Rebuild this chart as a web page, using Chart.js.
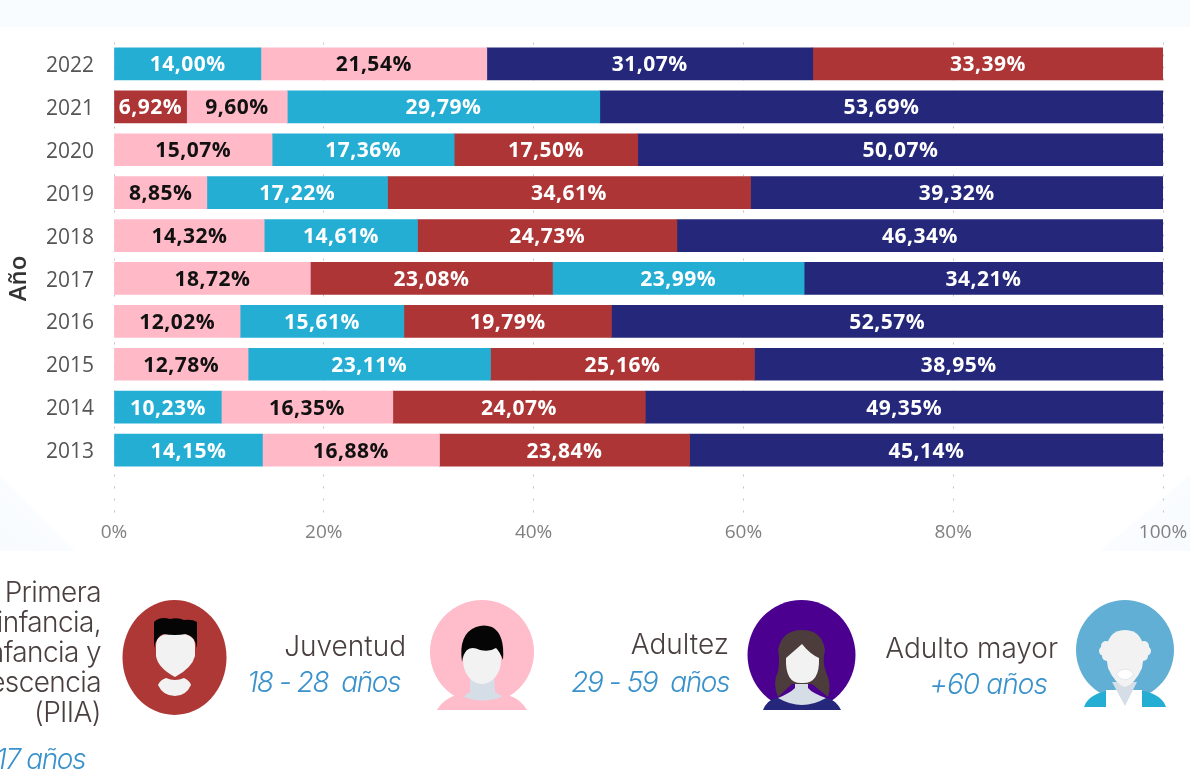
<!DOCTYPE html>
<html lang="es"><head><meta charset="utf-8">
<script src="https://cdn.jsdelivr.net/npm/chart.js@4"></script>
<style>
html,body{margin:0;padding:0;background:#fff;overflow:hidden}
#page{position:relative;width:1190px;height:769px;overflow:hidden;background:#fff}
#band{position:absolute;left:0;top:0;width:1190px;height:27px;background:#f8fcff}
.corner{position:absolute}
#cl{left:0;top:475px;width:75px;height:76px;clip-path:polygon(0 0,100% 100%,0 100%);background:linear-gradient(45deg,#f7fbfe,#fdfeff)}
#cr{left:1100px;top:475px;width:90px;height:76px;clip-path:polygon(100% 0,100% 100%,0 100%);background:linear-gradient(-45deg,#f7fbfe,#fdfeff)}
#wrap{position:absolute;left:0;top:0;width:1190px;height:560px}
#icons{position:absolute;left:0;top:0}
.t{position:absolute;white-space:nowrap;text-align:right;font-family:Inter,"Open Sans",sans-serif;font-weight:300;color:#4a3f3f;font-size:28px;line-height:30px}
.a{position:absolute;white-space:nowrap;text-align:right;font-family:Inter,"Open Sans",sans-serif;font-weight:300;font-style:italic;color:#3a92cc;font-size:28px;letter-spacing:-1.4px;line-height:30px}
</style></head><body>
<div id="page">
<div id="band"></div><div id="cl" class="corner"></div><div id="cr" class="corner"></div>
<div id="wrap"><canvas id="c" width="1190" height="560"></canvas></div>
<svg id="icons" width="1190" height="769" viewBox="0 0 1190 769">
  <!-- PIIA -->
  <ellipse cx="174.5" cy="657.5" rx="52" ry="57.5" fill="#ad3836"/>
  <path d="M156 645 Q156 633 175 633 Q195 633 195 645 L195 656 Q192 668 175 677 Q158 668 156 656Z" fill="#f2f2f2"/>
  <path d="M154 648 L154 622 Q160 616 170 619 Q178 617 184 620 Q192 619 197 622 L197 648 Q195 636 186 634 Q175 636 163 634 Q156 637 154 648Z" fill="#050505"/>
  <path d="M166 678 Q175 682 184 678 Q190 681 191 685 Q186 696 175 696 Q163 696 158 685 Q160 680 166 678Z" fill="#f2f2f2"/>
  <!-- Juventud -->
  <ellipse cx="482" cy="652" rx="52" ry="52" fill="#ffbccb"/>
  <path d="M437 710 Q445 696 465 693 L499 693 Q519 696 527 710Z" fill="#ffbccb"/>
  <path d="M470 672 L494 672 L495 692 Q501 695 502 697 Q482 704 464 697 Q465 695 470 692Z" fill="#d5dde6"/>
  <ellipse cx="482" cy="660" rx="19" ry="24" fill="#f2f2f2"/>
  <path d="M462 662 Q458 634 476 627 Q484 624 492 627 Q505 634 503 660 Q500 652 496 648 Q490 652 480 650 Q472 646 467 650 Q463 654 462 662Z" fill="#050505"/>
  <!-- Adultez -->
  <ellipse cx="801.5" cy="655" rx="54" ry="55" fill="#4b0090"/>
  <path d="M763 710 Q767 700 776 698 L827 698 Q836 700 841 710Z" fill="#25287a"/>
  <path d="M778 698 Q802 712 826 698 Q812 693 808 688 L808 675 L795 675 L795 688 Q790 693 778 698Z" fill="#d5dde6"/>
  <path d="M778 697 Q772 682 778 672 Q780 660 778 650 Q782 630 802 630 Q822 630 825 650 Q822 662 826 672 Q832 684 828 697 L812 684 L792 684Z" fill="#4d3c3c"/>
  <path d="M786 658 L802 644 Q810 654 819 658 Q820 684 802 683 Q785 684 786 658Z" fill="#f2f2f2"/>
  <!-- Adulto mayor -->
  <ellipse cx="1125" cy="650" rx="49" ry="50" fill="#62afd5"/>
  <path d="M1084 707 Q1088 695 1106 691 L1144 691 Q1162 695 1166 707Z" fill="#25aed4"/>
  <path d="M1106 690 L1142 690 L1142 707 L1106 707Z" fill="#fff"/>
  <path d="M1112 682 L1137 682 L1125 706Z" fill="#d5dde6"/>
  <circle cx="1106" cy="646" r="5" fill="#f2f2f2"/><circle cx="1104" cy="651" r="5" fill="#f2f2f2"/><circle cx="1107" cy="656" r="5" fill="#f2f2f2"/>
  <circle cx="1144" cy="646" r="5" fill="#f2f2f2"/><circle cx="1146" cy="651" r="5" fill="#f2f2f2"/><circle cx="1143" cy="656" r="5" fill="#f2f2f2"/>
  <path d="M1106 655 Q1106 630 1125 630 Q1144 630 1144 655 L1142 668 Q1135 684 1125 687 Q1115 684 1108 668Z" fill="#f2f2f2"/>
  <path d="M1116 674 Q1125 664 1134 674 Q1130 680 1125 680 Q1120 680 1116 674Z" fill="#fff" stroke="#e3e6ea" stroke-width="1"/>
</svg>
<div class="t" style="right:1089px;top:577px;letter-spacing:-0.6px">Primera<br>infancia,<br>Infancia y<br>Adolescencia<br>(PIIA)</div>
<div class="a" style="right:1105px;top:744px">0 - 17 años</div>
<div class="t" style="right:784px;top:631px">Juventud</div>
<div class="a" style="right:790px;top:667px">18 - 28&nbsp; años</div>
<div class="t" style="right:461px;top:629px">Adultez</div>
<div class="a" style="right:461px;top:667px">29 - 59&nbsp; años</div>
<div class="t" style="right:132px;top:633px">Adulto mayor</div>
<div class="a" style="right:143px;top:669px;letter-spacing:-0.9px">+60 años</div>
</div>
<script>
const years = ['2022','2021','2020','2019','2018','2017','2016','2015','2014','2013'];
const piia       = [33.39, 6.92,17.50,34.61,24.73,23.08,19.79,25.16,24.07,23.84];
const juventud   = [21.54, 9.60,15.07, 8.85,14.32,18.72,12.02,12.78,16.35,16.88];
const adultez    = [31.07,53.69,50.07,39.32,46.34,34.21,52.57,38.95,49.35,45.14];
const adultoMayor= [14.00,29.79,17.36,17.22,14.61,23.99,15.61,23.11,10.23,14.15];
const groupColors = ['#ad3535','#ffb9c7','#25287a','#25aed4'];
const labelColors = ['#fff','#111','#fff','#fff'];
const xTicks = [0,20,40,60,80,100];
const groups = [piia,juventud,adultez,adultoMayor];

// Each row is stacked from its smallest share to its largest.
const ranked = years.map((_,r)=>groups.map((g,i)=>({v:g[r],i})).sort((a,b)=>a.v-b.v));
const datasets = [0,1,2,3].map(k=>({
  label:'rank'+k,
  data:ranked.map(row=>row[k].v),
  backgroundColor:ranked.map(row=>groupColors[row[k].i]),
  textColors:ranked.map(row=>labelColors[row[k].i]),
  barThickness:32,
  borderWidth:0,
  stack:'s'
}));

const barLabels = {
  id:'barLabels',
  afterDatasetsDraw(chart){
    const ctx = chart.ctx;
    ctx.save();
    ctx.font = '700 21px "Open Sans"';
    ctx.letterSpacing = '0.5px';
    ctx.textAlign = 'center';
    ctx.textBaseline = 'middle';
    chart.data.datasets.forEach((ds,d)=>{
      chart.getDatasetMeta(d).data.forEach((bar,i)=>{
        if(ds.data[i]==null) return;
        ctx.fillStyle = ds.textColors[i];
        const cx = (bar.x + bar.base)/2;
        ctx.fillText(ds.data[i].toFixed(2).replace('.',',')+'%', cx, bar.y + 1.5);
      });
    });
    ctx.restore();
  }
};

new Chart(document.getElementById('c'),{
  type:'bar',
  data:{labels:[...years,''],datasets},
  plugins:[barLabels],
  options:{
    indexAxis:'y',
    responsive:false,
    animation:false,
    layout:{padding:{top:42.5,right:27,left:0,bottom:0}},
    plugins:{legend:{display:false},tooltip:{enabled:false}},
    scales:{
      x:{
        stacked:true,min:0,max:100,
        afterBuildTicks(s){s.ticks=xTicks.map(v=>({value:v}));},
        afterFit(s){s.height=45.6;s.paddingRight=0;s.paddingLeft=0;},
        border:{display:false,dash:[2,10]},
        grid:{color:'#c4c4c4',lineWidth:1,drawTicks:false,tickLength:0},
        ticks:{color:'#808080',font:{family:'"Open Sans"',size:19},padding:7,maxRotation:0,
          callback:v=>v+'%'}
      },
      y:{
        stacked:true,
        afterFit(s){s.width=114;},
        border:{display:false},
        grid:{display:false},
        ticks:{color:'#555',font:{family:'"Open Sans"',size:21,lineHeight:0.2},padding:12,autoSkip:false,
          callback(v){const l=this.getLabelForValue(v);return l?['',l]:'';}},
        title:{display:true,text:'Año',color:'#333',font:{family:'"Open Sans"',size:24,weight:'600'},padding:{top:5,bottom:0}}
      }
    }
  }
});
</script>
</body></html>
